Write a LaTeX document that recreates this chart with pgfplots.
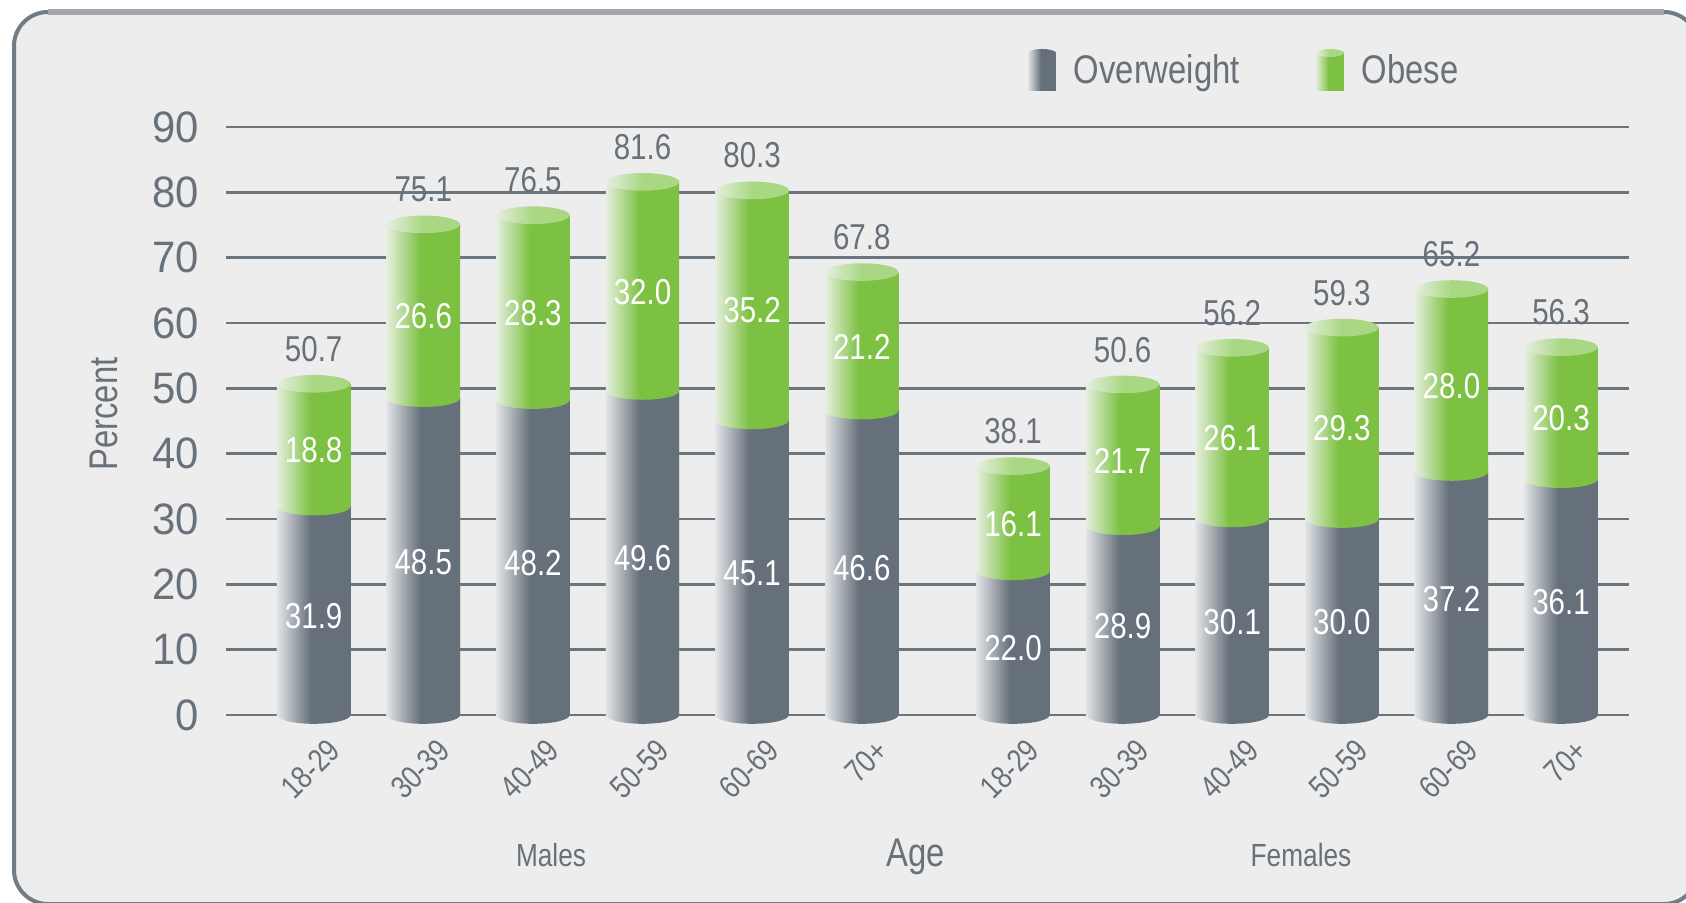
\documentclass[border=0pt]{standalone}
\usepackage{pgfplots}
\pgfplotsset{compat=1.18}
\usepackage{pgfplotstable}
\usepackage{fontspec}
\setmainfont{Liberation Sans}[FakeStretch=0.82]
\newfontfamily\tickfont{Liberation Sans}[FakeStretch=0.95]
\definecolor{ow}{HTML}{66707A}
\definecolor{owl}{HTML}{E2E5E7}
\definecolor{ob}{HTML}{7CC142}
\definecolor{obl}{HTML}{E6EFDF}
\definecolor{obt}{HTML}{A9D784}
\definecolor{txt}{HTML}{68717A}
\definecolor{bg}{HTML}{EDEDED}
\definecolor{framel}{HTML}{A3A7AB}
\definecolor{framed}{HTML}{737B83}
\definecolor{gridc}{HTML}{6B757D}
\pgfdeclarehorizontalshading{owshade}{100bp}{color(0bp)=(owl); color(25bp)=(owl); color(48bp)=(ow); color(100bp)=(ow)}
\pgfdeclarehorizontalshading{obshade}{100bp}{color(0bp)=(obl); color(25bp)=(obl); color(48bp)=(ob); color(100bp)=(ob)}
\pgfdeclarehorizontalshading{obtop}{100bp}{color(0bp)=(obl); color(25bp)=(obl); color(50bp)=(obt); color(100bp)=(obt)}
\pgfdeclareplotmark{cylow}{\pgfpathellipse{\pgfpointorigin}{\pgfqpoint{\pgfplotmarksize}{0pt}}{\pgfqpoint{0pt}{0.24\pgfplotmarksize}}\pgfshadepath{owshade}{0}\pgfusepath{}}
\pgfdeclareplotmark{cylob}{\pgfpathellipse{\pgfpointorigin}{\pgfqpoint{\pgfplotmarksize}{0pt}}{\pgfqpoint{0pt}{0.24\pgfplotmarksize}}\pgfshadepath{obshade}{0}\pgfusepath{}}
\pgfdeclareplotmark{cyltop}{\pgfpathellipse{\pgfpointorigin}{\pgfqpoint{\pgfplotmarksize}{0pt}}{\pgfqpoint{0pt}{0.24\pgfplotmarksize}}\pgfshadepath{obtop}{0}\pgfusepath{}}

\pgfplotstableread{
x ow ob tot
0 31.9 18.8 50.7
1 48.5 26.6 75.1
2 48.2 28.3 76.5
3 49.6 32.0 81.6
4 45.1 35.2 80.3
5 46.6 21.2 67.8
6.38 22.0 16.1 38.1
7.38 28.9 21.7 50.6
8.38 30.1 26.1 56.2
9.38 30.0 29.3 59.3
10.38 37.2 28.0 65.2
11.38 36.1 20.3 56.3
}\data

\begin{document}
\begin{tikzpicture}
\path[use as bounding box] (0pt,0pt) rectangle (843pt,451pt);
\clip (0pt,0pt) rectangle (843pt,451pt);
\draw[framed, line width=2pt, fill=bg, rounded corners=17pt] (7pt,-1pt) rectangle (849pt,445pt);
\draw[framel, line width=2.6pt] (24pt,445pt) -- (832pt,445pt);
\begin{axis}[
  at={(113pt,93.5pt)}, anchor=south west,
  width=701.5pt, height=294pt, scale only axis,
  xmin=-0.8, xmax=12, ymin=0, ymax=90,
  clip=false,
  axis line style={draw=none},
  major tick length=0pt,
  ytick={0,10,...,90},
  ymajorgrids, grid style={color=gridc, line width=1.3pt},
  xtick={0,1,2,3,4,5,6.38,7.38,8.38,9.38,10.38,11.38},
  xticklabels={18-29,30-39,40-49,50-59,60-69,70+,18-29,30-39,40-49,50-59,60-69,70+},
  xticklabel style={rotate=45, anchor=east, font=\fontsize{16}{18}\selectfont, text=txt, xshift=0pt, yshift=-18pt},
  yticklabel style={font=\tickfont\fontsize{22}{24}\selectfont, text=txt, xshift=-10pt},
  /pgf/number format/assume math mode=true,
  legend columns=2,
  legend style={draw=none, fill=none, at={(0.567,1.097)}, anchor=west, font=\fontsize{20}{22}\selectfont, text=txt,
    /tikz/every even column/.append style={column sep=36pt}},
  legend cell align=left,
]
\addlegendimage{draw=none, legend image code/.code={\shade[shading=owshade] (-6pt,-10pt) rectangle (8pt,9pt); \shade[shading=owshade] (1pt,9pt) ellipse (7pt and 2pt); \path (8pt,0pt) -- (15pt,0pt);}}
\addlegendentry{Overweight}
\addlegendimage{draw=none, legend image code/.code={\shade[shading=obshade] (-6pt,-10pt) rectangle (8pt,9pt); \shade[shading=obtop] (1pt,9pt) ellipse (7pt and 2pt); \path (8pt,0pt) -- (15pt,0pt);}}
\addlegendentry{Obese}
% rounded bottom
\addplot[forget plot, only marks, mark=cylow, mark size=18.35pt] table[x=x, y expr=0]{\data};
% obese (full height, overlapped) and overweight, one bar per plot for the shading
\pgfplotsinvokeforeach{0,...,11}{
\addplot[forget plot, ybar, bar width=36.7pt, bar shift=0pt, draw=none, shade, shading=obshade,
  restrict expr to domain={\coordindex}{#1:#1}] table[x=x, y=tot]{\data};
}
\pgfplotsinvokeforeach{0,...,11}{
\addplot[forget plot, ybar, bar width=36.7pt, bar shift=0pt, draw=none, shade, shading=owshade,
  restrict expr to domain={\coordindex}{#1:#1}] table[x=x, y=ow]{\data};
}
% junction and top
\addplot[forget plot, only marks, mark=cylob, mark size=18.35pt] table[x=x, y=ow]{\data};
\addplot[forget plot, only marks, mark=cyltop, mark size=18.35pt] table[x=x, y=tot]{\data};
% labels
\addplot[forget plot, draw=none, mark=none, point meta=explicit symbolic, nodes near coords,
  every node near coord/.append style={font=\fontsize{18}{20}\selectfont, text=white, yshift=-12.5pt}]
  table[x=x, y expr=\thisrow{ow}/2, meta=ow]{\data};
\addplot[forget plot, draw=none, mark=none, point meta=explicit symbolic, nodes near coords,
  every node near coord/.append style={font=\fontsize{18}{20}\selectfont, text=white, yshift=-12.5pt}]
  table[x=x, y expr=\thisrow{ow}+\thisrow{ob}/2, meta=ob]{\data};
\addplot[forget plot, draw=none, mark=none, point meta=explicit symbolic, nodes near coords,
  every node near coord/.append style={font=\fontsize{18}{20}\selectfont, text=txt, yshift=7.5pt}]
  table[x=x, y=tot, meta=tot]{\data};
\end{axis}
\node[text=txt, rotate=90, font=\fontsize{20}{22}\selectfont] at (52pt,244pt) {Percent};
\node[text=txt, font=\fontsize{16}{18}\selectfont] at (275.5pt,23.5pt) {Males};
\node[text=txt, font=\fontsize{20}{22}\selectfont] at (458pt,22.5pt) {Age};
\node[text=txt, font=\fontsize{16}{18}\selectfont] at (650.5pt,23.5pt) {Females};
\end{tikzpicture}
\end{document}
